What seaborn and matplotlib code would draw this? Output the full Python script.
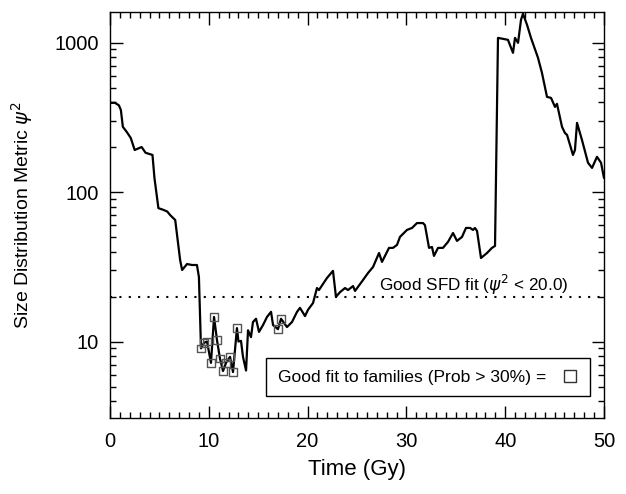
import numpy as np
import pandas as pd
import matplotlib
matplotlib.use("Agg")
import matplotlib.pyplot as plt
import matplotlib.ticker as mticker
from matplotlib.lines import Line2D
import seaborn as sns

# ---- data ----
time_gy = [0.0, 0.5, 0.9, 1.1, 1.3, 1.7, 2.1, 2.5, 3.2, 3.6, 4.3, 4.5, 4.9, 5.4, 5.8,
           6.1, 6.6, 7.1, 7.3, 7.8, 8.3, 8.8, 9.0,
           9.21, 9.51, 9.82, 10.22, 10.53, 10.83, 11.13, 11.44, 11.74, 12.15, 12.45, 12.85,
           13.0, 13.26, 13.46, 13.77, 13.97, 14.27, 14.47, 14.78, 15.08, 15.49, 15.89,
           16.30, 16.50, 17.00, 17.31, 17.91, 18.42, 18.93, 19.23, 19.74, 20.04, 20.55,
           20.95, 21.15, 21.96, 22.57, 22.87, 23.28, 23.79, 24.09, 24.60, 24.80, 25.61,
           26.11, 26.62, 27.23, 27.53, 28.24, 28.64, 29.05, 29.35, 30.06, 30.57, 31.07,
           31.68, 31.88, 32.29, 32.59, 32.79, 33.20, 33.70, 34.21, 34.72, 35.12, 35.63,
           36.03, 36.44, 36.74, 36.94, 37.15, 37.55, 38.16, 38.66, 38.97, 39.27, 39.78,
           40.28, 40.79, 40.99, 41.30, 41.60, 41.80, 42.21, 42.61, 43.32, 43.72, 44.23,
           44.64, 45.04, 45.24, 45.75, 46.05, 46.26, 46.86, 47.06, 47.27, 47.77, 48.38,
           48.79, 49.29, 49.70, 50.0]
psi2 = [395, 395, 380, 354, 273, 252, 230, 191, 200, 183, 177, 124, 78, 76, 74,
        70, 65, 35, 30.1, 33.0, 32.5, 32.5, 27,
        9.0, 9.8, 10.0, 7.2, 14.6, 10.2, 7.7, 6.35, 7.2, 7.9, 6.25, 12.3,
        10.0, 10.1, 7.9, 6.4, 11.9, 10.7, 13.5, 14.2, 11.6, 12.9, 14.6,
        15.8, 12.9, 12.1, 14.2, 12.5, 13.5, 15.8, 16.8, 14.8, 16.3, 18.1,
        22.8, 22.1, 26.6, 29.7, 19.9, 21.4, 22.8, 22.1, 23.5, 21.8, 25.8,
        28.7, 31.5, 39.1, 34.1, 42.3, 42.3, 44.3, 50.1, 55.8, 57.5, 62,
        62, 60, 42.3, 42.9, 37.4, 42.3, 42.3, 46.4, 53.2, 47.1, 50.1,
        57.5, 57.5, 55.8, 57.5, 54.9, 36.2, 39.1, 42.3, 43.6, 1074, 1058,
        1042, 853, 1074, 995, 1419, 1556, 1313, 1074, 790, 627, 433,
        426, 371, 389, 273, 248, 241, 177, 191, 290, 223, 157,
        145, 172, 157, 124]

fam_time = [9.21, 9.51, 9.82, 10.22, 10.53, 10.83, 11.13, 11.44, 11.74, 12.15, 12.45, 12.85, 17.00, 17.31]
fam_psi2 = [9.0, 9.8, 10.0, 7.2, 14.6, 10.2, 7.7, 6.35, 7.2, 7.9, 6.25, 12.3, 12.1, 14.2]

sfd_threshold = 20.0
x_ticks = [0, 10, 20, 30, 40, 50]
y_ticks = [10, 100, 1000]

df = pd.DataFrame({"time": time_gy, "psi2": psi2})
fam = pd.DataFrame({"time": fam_time, "psi2": fam_psi2})

# ---- style ----
sns.set_style("ticks")
plt.rcParams["font.family"] = ["Liberation Sans", "DejaVu Sans"]
plt.rcParams["mathtext.fontset"] = "dejavusans"
plt.rcParams["text.color"] = "black"
plt.rcParams["axes.labelcolor"] = "black"
plt.rcParams["xtick.color"] = "black"
plt.rcParams["ytick.color"] = "black"

fig = plt.figure(figsize=(6.26, 4.94), dpi=100)
ax = fig.add_axes([110 / 626, 76 / 494, 494 / 626, 406 / 494])

sns.lineplot(data=df, x="time", y="psi2", ax=ax, color="black", lw=1.6,
             estimator=None, sort=False)
sns.scatterplot(data=fam, x="time", y="psi2", ax=ax, marker="s", s=30,
                facecolor="none", edgecolor="#555555", linewidth=1.0, zorder=3)

ax.axhline(sfd_threshold, color="black", lw=1.5, linestyle=(0, (1, 3.5)))
ax.text(46.4, 23.9, r"Good SFD fit ($\psi^2$ < 20.0)", ha="right", va="center",
        fontsize=12.3)

ax.set_yscale("log")
ax.set_xlim(0, 50)
ax.set_ylim(3.08, 1600)

ax.xaxis.set_major_locator(mticker.FixedLocator(x_ticks))
ax.xaxis.set_minor_locator(mticker.MultipleLocator(1))
ax.yaxis.set_major_locator(mticker.FixedLocator(y_ticks))
ax.yaxis.set_major_formatter(mticker.FuncFormatter(lambda v, p: f"{int(round(v))}"))
ax.yaxis.set_minor_locator(mticker.LogLocator(base=10, subs=np.arange(2, 10)))
ax.yaxis.set_minor_formatter(mticker.NullFormatter())

ax.tick_params(which="both", direction="in", top=True, right=True, width=1.0,
               color="black", labelsize=14.5, labelcolor="black")
ax.tick_params(axis="x", which="major", length=9, pad=10)
ax.tick_params(axis="y", which="major", length=9, pad=8)
ax.tick_params(which="minor", length=4.5)
for sp in ax.spines.values():
    sp.set_visible(True)
    sp.set_color("black")
    sp.set_linewidth(1.0)

ax.set_xlabel("Time (Gy)", fontsize=16, labelpad=6)
ax.set_ylabel(r"Size Distribution Metric $\psi^2$", fontsize=14, labelpad=14)

handle = Line2D([], [], marker="s", linestyle="none", markersize=9,
                markerfacecolor="none", markeredgecolor="#333333", markeredgewidth=1.0)
leg = ax.legend([handle], ["Good fit to families (Prob > 30%) = "], loc="lower right",
                bbox_to_anchor=(0.9717, 0.054), borderaxespad=0, markerfirst=False,
                fancybox=False, framealpha=1, edgecolor="black", fontsize=12.6,
                handlelength=1.0, handletextpad=0.6, borderpad=0.65)
leg.get_frame().set_linewidth(1.0)

fig.savefig("out.png", dpi=100)
